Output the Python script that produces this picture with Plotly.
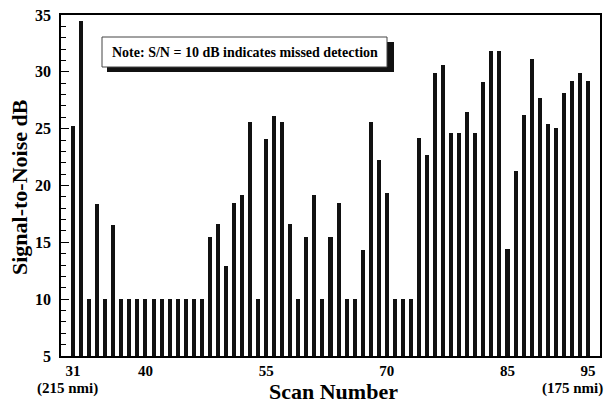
import plotly.graph_objects as go

scans = list(range(31, 96))
snr_db = [25.2, 34.5, 10, 18.4, 10, 16.5,
          10, 10, 10, 10, 10, 10, 10, 10, 10, 10, 10,
          15.5, 16.6, 12.9, 18.5, 19.2, 25.6, 10, 24.1, 26.1, 25.6, 16.6, 10,
          15.5, 19.2, 10, 15.5, 18.5, 10, 10, 14.3, 25.6, 22.2, 19.3,
          10, 10, 10,
          24.2, 22.7, 29.9, 30.6, 24.6, 24.6, 26.5, 24.6, 29.1, 31.8, 31.8,
          14.4, 21.3, 26.2, 31.1, 27.7, 25.4, 25.1, 28.1, 29.2, 29.9, 29.2]
x_tick_vals = [31, 40, 55, 70, 85, 95]
x_tick_text = ["31", "40", "55", "70", "85", "95"]
y_tick_vals = [5, 10, 15, 20, 25, 30, 35]
note_text = "Note: S/N = 10 dB indicates missed detection"

FONT = "Liberation Serif, Times New Roman, serif"
L, T, W, H = 61, 15, 539, 341  # plot area in pixels


def px_x(p):
    return (p - L) / W


def px_y(p):
    return (T + H - p) / H


fig = go.Figure()
fig.add_trace(go.Bar(x=scans, y=snr_db, width=0.5,
                     marker=dict(color="#111111", line=dict(width=0)),
                     showlegend=False))

fig.update_layout(
    width=608, height=403,
    margin=dict(l=L, r=608 - L - W, t=T, b=403 - T - H),
    paper_bgcolor="white", plot_bgcolor="white",
    font=dict(family=FONT, color="black"),
    bargap=0,
)
fig.update_xaxes(
    range=[29.5, 96.5], tickmode="array", tickvals=x_tick_vals, ticktext=x_tick_text,
    showgrid=False, zeroline=False, showline=True, linecolor="black", linewidth=1.5,
    mirror=True, ticks="", automargin=False,
    tickfont=dict(family=FONT, size=15, color="black", weight="bold"),
    ticklabelstandoff=0,
)
fig.update_yaxes(
    range=[5, 35], tickmode="array", tickvals=y_tick_vals,
    showgrid=False, zeroline=False, showline=True, linecolor="black", linewidth=1.5,
    mirror=True, ticks="inside", ticklen=8, tickwidth=1.2, tickcolor="black", automargin=False,
    minor=dict(dtick=1, ticks="inside", ticklen=5, tickwidth=1, tickcolor="black", showgrid=False),
    tickfont=dict(family=FONT, size=16, color="black", weight="bold"),
    ticklabelstandoff=5,
)

# axis titles
fig.add_annotation(xref="paper", yref="paper", x=px_x(333), y=px_y(392),
                   text="<b>Scan Number</b>", showarrow=False,
                   font=dict(family=FONT, size=22, color="black"), xanchor="center", yanchor="middle")
fig.add_annotation(xref="paper", yref="paper", x=px_x(19), y=px_y(187),
                   text="<b>Signal-to-Noise dB</b>", showarrow=False, textangle=-90,
                   font=dict(family=FONT, size=22, color="black"), xanchor="center", yanchor="middle")

# note box with drop shadow
fig.add_shape(type="rect", xref="paper", yref="paper", x0=px_x(107), x1=px_x(394), y0=px_y(72), y1=px_y(42),
              fillcolor="#111111", line=dict(width=0), layer="above")
fig.add_shape(type="rect", xref="paper", yref="paper", x0=px_x(102), x1=px_x(387), y0=px_y(67), y1=px_y(37),
              fillcolor="white", line=dict(color="#444444", width=1), layer="above")
fig.add_annotation(xref="paper", yref="paper", x=px_x(245), y=px_y(52), text="<b>" + note_text + "</b>",
                   showarrow=False, font=dict(family=FONT, size=14, color="black"),
                   xanchor="center", yanchor="middle")

# range labels
fig.add_annotation(xref="paper", yref="paper", x=px_x(67), y=px_y(388),
                   text="<b>(215 nmi)</b>", showarrow=False,
                   font=dict(family=FONT, size=15, color="black"), xanchor="center", yanchor="middle")
fig.add_annotation(xref="paper", yref="paper", x=px_x(572), y=px_y(388),
                   text="<b>(175 nmi)</b>", showarrow=False,
                   font=dict(family=FONT, size=15, color="black"), xanchor="center", yanchor="middle")

fig.write_html("out.html", config={"displayModeBar": False},
               post_script="document.body.style.margin='0';document.body.style.overflow='hidden';")
